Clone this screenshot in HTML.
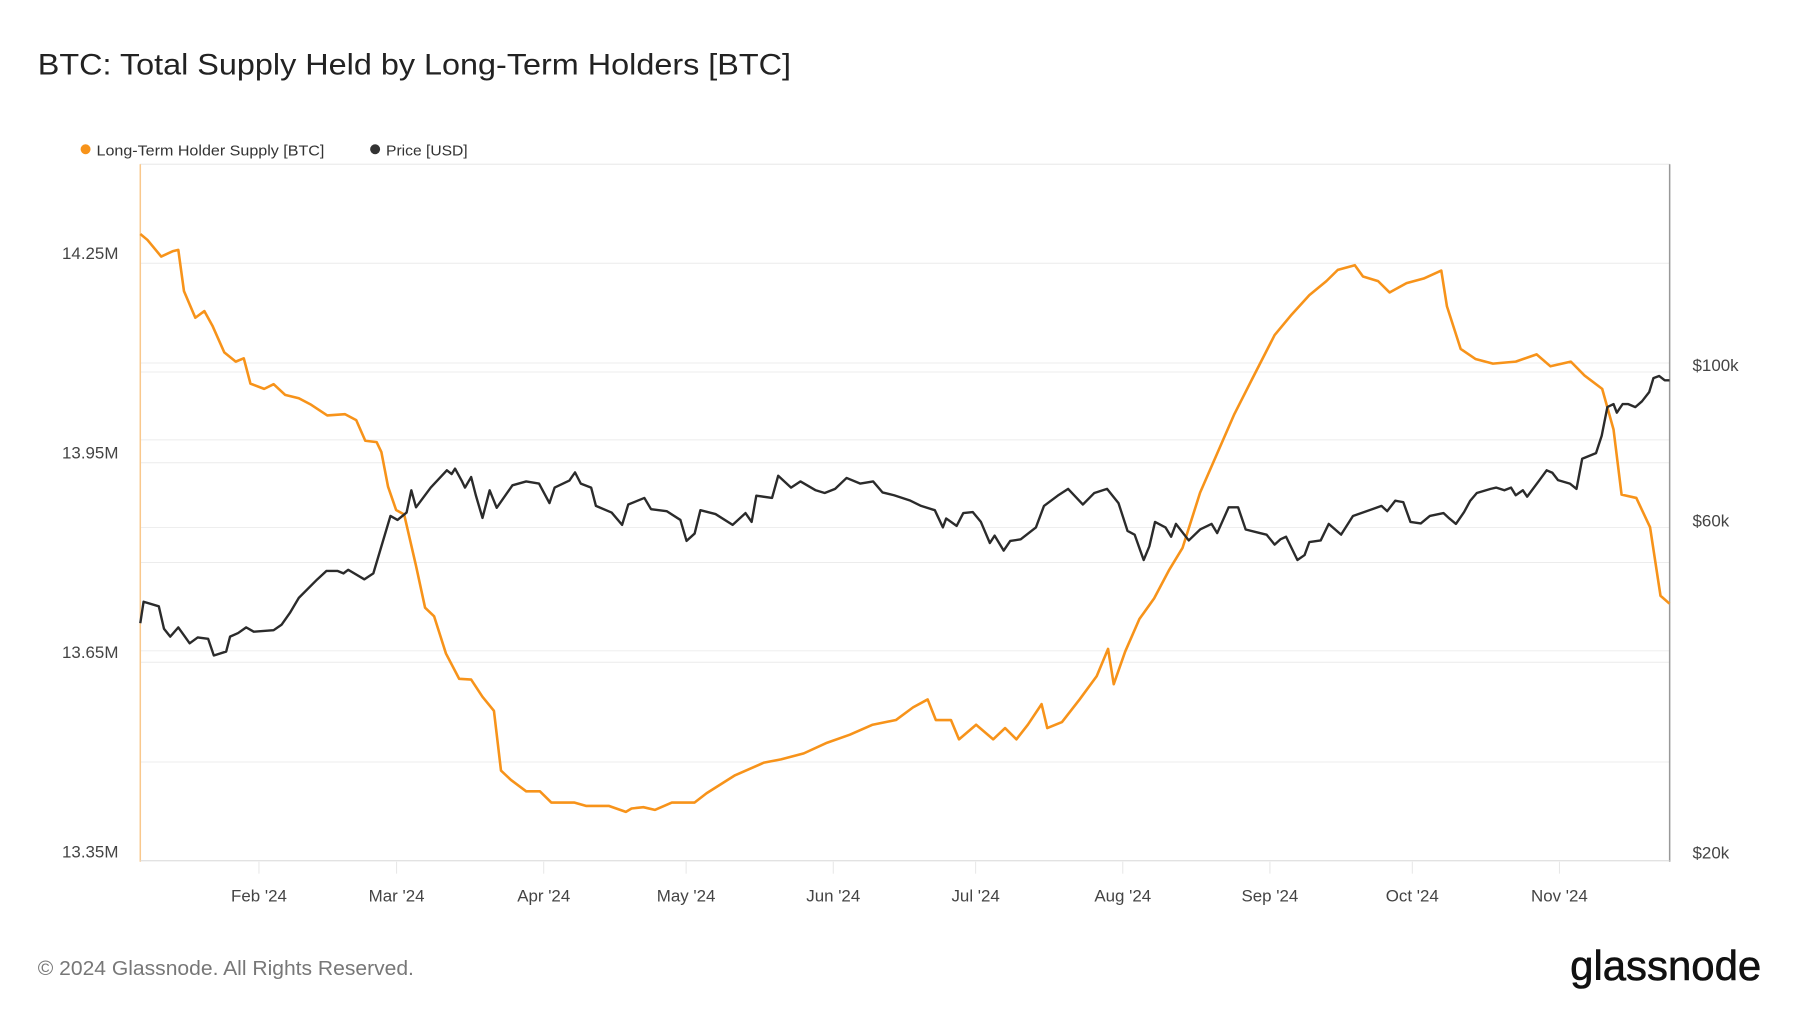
<!DOCTYPE html>
<html><head><meta charset="utf-8"><style>
body{margin:0;background:#fff;width:1800px;height:1013px;overflow:hidden;font-family:"Liberation Sans",sans-serif}
svg text{font-family:"Liberation Sans",sans-serif}
</style></head><body>
<svg id="chart" width="1800" height="1013" viewBox="0 0 1809 1018">
<text x="38" y="75" font-size="30" fill="#222" textLength="757" lengthAdjust="spacingAndGlyphs">BTC: Total Supply Held by Long-Term Holders [BTC]</text>
<g>
<g><circle cx="86" cy="150" r="5" fill="#f7931a"/><text x="97" y="156" font-size="15" fill="#333" textLength="229" lengthAdjust="spacingAndGlyphs">Long-Term Holder Supply [BTC]</text></g>
<g><circle cx="377" cy="150" r="5" fill="#333"/><text x="388" y="156" font-size="15" fill="#333" textLength="82" lengthAdjust="spacingAndGlyphs">Price [USD]</text></g>
</g>
<g id="grid"></g>
<rect x="141" y="165" width="1537" height="700" fill="none" stroke="#e6e6e6"/>
<g id="axes"></g>
<g id="series"></g>
<text x="38" y="980" font-size="20" fill="#777" textLength="378" lengthAdjust="spacingAndGlyphs">© 2024 Glassnode. All Rights Reserved.</text>
<text x="1770" y="985" text-anchor="end" font-size="42" fill="#111" stroke="#111" stroke-width="0.6" textLength="192" lengthAdjust="spacingAndGlyphs">glassnode</text>
</svg>
<script>
const lthDays=[0,1.5,4.4,6.8,8,9.2,11.6,13.5,15.2,17.7,20.1,21.8,23.2,26.1,28.1,30.5,33.4,35.8,39.4,43.1,45.5,47.4,49.8,50.8,52.2,53.9,55.6,58.1,60,61.9,64.4,67.2,69.7,72.1,74.5,76,78.1,81.3,84.2,86.6,91.4,93.9,98.7,102.3,103.5,106,108.4,112,116.8,119.3,125.3,131.4,135,139.8,144.7,149.5,154.3,159.2,162.8,165.9,167.6,170.8,172.5,176.1,179.7,182.2,184.6,187,189.9,191.1,194.2,197.9,201.5,203.9,205.1,207.5,210.5,213.6,216.7,219.6,223.3,226.9,230.5,234.2,239,242.6,246.3,249.9,252.3,255.9,257.6,260.8,263.2,266.8,270.4,274.1,275.3,278.2,281.3,285,289.8,294.2,297.1,301.4,304.3,308,310.4,312.1,315.2,318.1,320.3,322.2];
const lthSupplyM=[14.294,14.285,14.260,14.268,14.270,14.208,14.168,14.178,14.156,14.116,14.102,14.107,14.069,14.061,14.068,14.052,14.047,14.038,14.021,14.023,14.014,13.983,13.981,13.966,13.914,13.879,13.872,13.795,13.732,13.719,13.663,13.625,13.624,13.598,13.577,13.487,13.473,13.456,13.456,13.439,13.439,13.434,13.434,13.425,13.430,13.432,13.428,13.439,13.439,13.453,13.480,13.499,13.504,13.513,13.529,13.541,13.556,13.563,13.582,13.594,13.563,13.563,13.534,13.556,13.534,13.551,13.534,13.556,13.587,13.551,13.560,13.594,13.629,13.670,13.617,13.666,13.715,13.746,13.788,13.822,13.905,13.964,14.023,14.075,14.142,14.173,14.202,14.223,14.240,14.247,14.230,14.223,14.206,14.220,14.227,14.239,14.185,14.121,14.106,14.099,14.102,14.113,14.095,14.102,14.081,14.061,14.000,13.902,13.897,13.853,13.750,13.738];
const priceDays=[0,0.7,3.9,5,6.3,8,10.4,12.1,14.3,15.5,18.1,18.9,20.6,22.3,23.9,28.1,29.8,31.5,33.4,37.3,39.2,41.6,42.8,43.8,47.2,49.1,51,52.7,54.2,56.1,57.1,58.1,61.2,64.6,65.6,66.3,67.7,68.4,69.7,70.7,72.1,73.6,75.1,78.4,81.3,84,86.2,87.3,90.4,91.6,92.8,95,96,99.3,101.5,102.8,106.2,107.6,110.9,113.8,115.1,116.8,118,121.2,124.8,127.5,128.8,129.8,133.1,134.4,137.1,139.1,142.3,144.2,146.4,148.8,151.7,154.4,156.4,158.8,162.1,164.5,167.4,169.1,169.8,172,173.4,175.4,177.1,179,180,181.9,183.3,185.5,188.7,190.4,193.3,195.5,198.6,201,203.7,206.1,208,209.5,210.7,211.4,212.6,213.8,216,217.2,218.2,220.9,223.3,225.7,226.9,229.3,231.3,232.9,235.9,237.3,239,240.2,241.4,243.8,245.3,246.3,248.7,250.4,253,255.5,258.4,261.5,262.7,264.4,266.1,267.6,269.8,271.7,274.6,275.8,277.2,278.9,280.2,281.6,284.5,285.7,287.4,288.8,289.8,291.3,292.2,294.6,296.3,297.5,298.7,301.2,302.6,303.8,306.7,307.9,309.1,310.4,311.1,312.3,313.5,315,316.4,317.9,318.8,320,321.2,322.2];
const priceK=[43.8,47.0,46.3,43.0,41.9,43.2,41.0,41.8,41.6,39.4,39.9,41.9,42.4,43.2,42.6,42.8,43.6,45.3,47.6,50.6,52.0,52.0,51.6,52.2,50.6,51.6,57.0,62.3,61.5,63.0,67.8,64.1,68.4,72.4,71.5,72.8,70.0,68.4,70.8,66.7,61.9,67.8,64.0,68.9,69.8,69.3,65.0,68.4,70.0,71.9,69.3,68.4,64.4,63.0,60.5,64.7,66.1,63.7,63.3,61.5,57.4,58.8,63.5,62.7,60.5,62.9,61.1,66.6,66.1,71.1,68.4,69.8,67.8,67.2,68.1,70.6,69.3,69.8,67.3,66.7,65.6,64.4,63.5,60.0,61.8,60.3,62.9,63.1,61.1,57.0,58.4,55.6,57.4,57.7,60.0,64.4,66.6,68.1,64.7,67.2,68.1,65.0,59.3,58.6,55.6,53.9,56.4,61.1,60.0,58.2,60.7,57.5,59.6,60.7,58.9,64.1,64.1,59.6,58.9,58.6,56.7,57.7,58.2,53.9,54.8,57.2,57.5,60.7,58.6,62.3,63.3,64.4,63.3,65.5,65.2,61.1,60.8,62.3,62.9,61.8,60.7,63.1,65.5,67.2,68.1,68.4,67.8,68.4,66.7,67.8,66.4,69.8,72.4,71.8,70.1,69.3,68.1,75.2,76.6,81.1,89.1,90.0,87.5,90.0,90.0,89.1,90.8,93.6,98.0,98.7,97.3,97.3];
const monthLabels=["Feb '24","Mar '24","Apr '24","May '24","Jun '24","Jul '24","Aug '24","Sep '24","Oct '24","Nov '24"];
const monthDays=[25,54,85,115,146,176,207,238,268,299];
const leftTicks=[14.25,13.95,13.65,13.35];
const leftGrid=[14.25,14.10,13.95,13.80,13.65,13.50];
const rightTicks=[100,60,20];
const rightGrid=[100,80,60,40];

const NS="http://www.w3.org/2000/svg";
const X0=141,X1=1678,Y0=165,Y1=866;
const xS=d=>X0+d*4.77;
const yL=v=>Y1-(v-13.35)/0.3*200.5;
const yR=p=>Y1-305.8*Math.log(p/20);
function mk(tag,attrs,parent,txt){const e=document.createElementNS(NS,tag);for(const k in attrs)e.setAttribute(k,attrs[k]);if(txt!==undefined)e.textContent=txt;parent.appendChild(e);return e;}
const grid=document.getElementById('grid'),axes=document.getElementById('axes'),series=document.getElementById('series');
leftGrid.forEach(v=>{const l=mk('line',{x1:X0,x2:X1,y1:yL(v),y2:yL(v),stroke:'#ececec'},grid);

});
rightGrid.forEach(v=>{const l=mk('line',{x1:X0,x2:X1,y1:yR(v),y2:yR(v),stroke:'#ececec'},grid);

});
leftTicks.forEach(v=>{const t=mk('text',{x:119,y:yL(v)-4,'text-anchor':'end','font-size':17,fill:'#444'},axes,v.toFixed(2)+'M');

});
rightTicks.forEach(v=>{const t=mk('text',{x:1701,y:yR(v)+(v==20?-3:-1),'font-size':17,fill:'#444'},axes,'$'+v+'k');

});
monthDays.forEach((d,i)=>{const x=xS(d);
const tk=mk('line',{x1:x,x2:x,y1:Y1,y2:Y1+12,stroke:'#e6e6e6'},axes);


const t=mk('text',{x:x,y:906,'text-anchor':'middle','font-size':17,fill:'#444'},axes,monthLabels[i]);

});
const la=mk('line',{x1:X0,x2:X0,y1:Y0,y2:Y1,stroke:'#f9c88c','stroke-width':1.5},axes);


const ra=mk('line',{x1:X1,x2:X1,y1:Y0,y2:Y1,stroke:'#999','stroke-width':1.5},axes);


const ba=mk('line',{x1:X0,x2:X1,y1:Y1-1,y2:Y1-1,stroke:'#ddd'},axes);


const lp=lthDays.map((d,i)=>xS(d).toFixed(1)+','+yL(lthSupplyM[i]).toFixed(1)).join(' ');
const l1=mk('polyline',{points:lp,fill:'none',stroke:'#f7931a','stroke-width':2.6,'stroke-linejoin':'round'},series);


const pp=priceDays.map((d,i)=>xS(d).toFixed(1)+','+yR(priceK[i]).toFixed(1)).join(' ');
const l2=mk('polyline',{points:pp,fill:'none',stroke:'#2b2b2b','stroke-width':2.4,'stroke-linejoin':'round'},series);


</script>
</body></html>
